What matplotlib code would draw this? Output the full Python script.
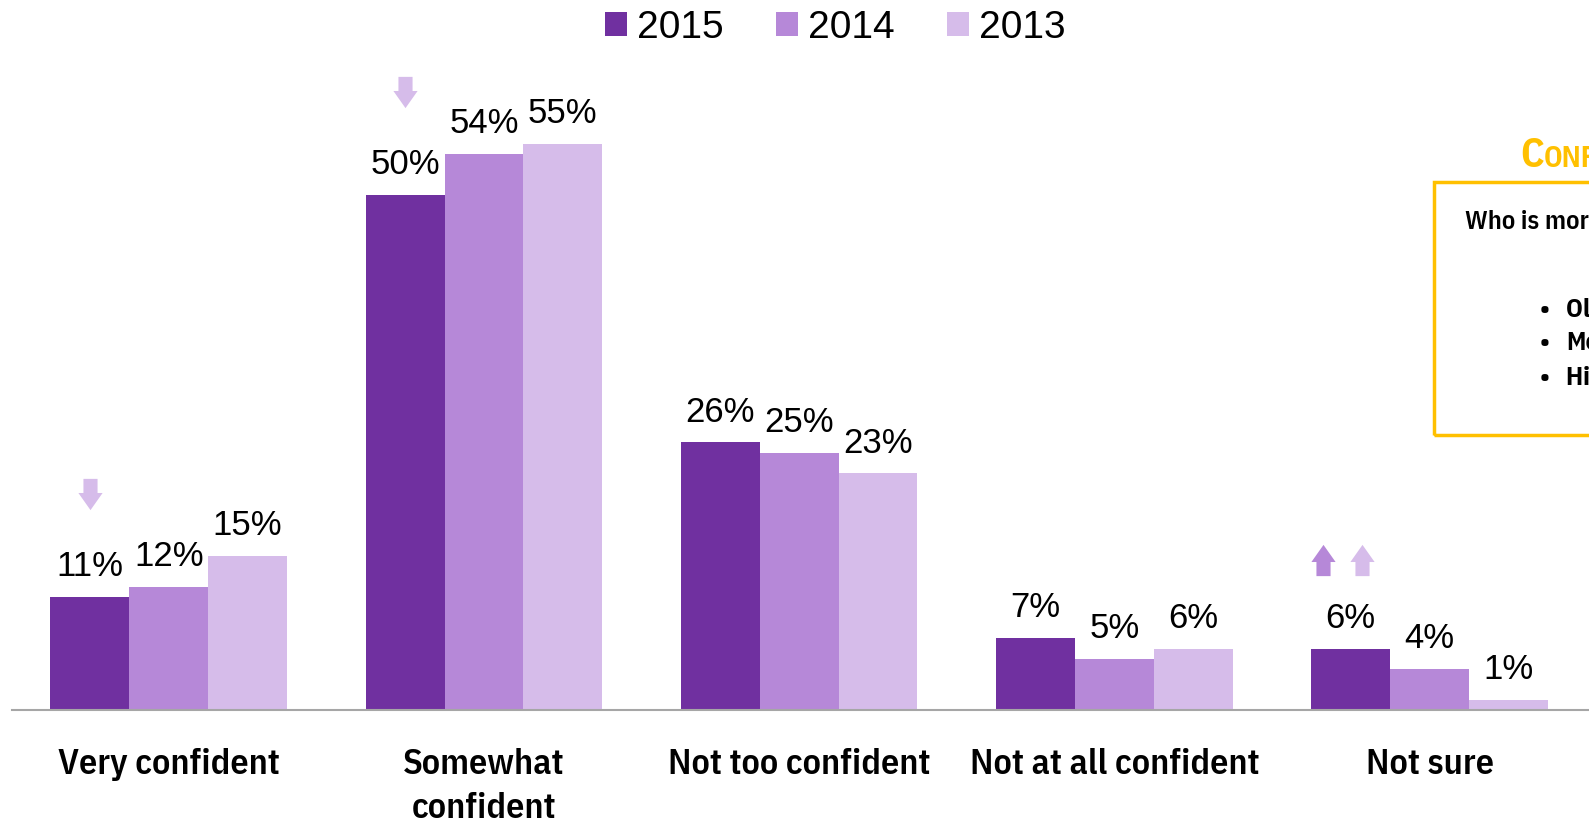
import matplotlib
matplotlib.use("Agg")
import matplotlib.pyplot as plt
import numpy as np
from matplotlib.path import Path
from matplotlib.patches import Rectangle

# Survey answers and the share of respondents per year
categories = ["Very confident", "Somewhat\nconfident", "Not too confident",
              "Not at all confident", "Not sure"]
years = ["2015", "2014", "2013"]
values_2015 = [11, 50, 26, 7, 6]
values_2014 = [12, 54, 25, 5, 4]
values_2013 = [15, 55, 23, 6, 1]

# Year-over-year change markers: (category index, direction, colour year, x nudge)
change_marks = [(0, "down", "2013", 0.0), (1, "down", "2013", 0.0),
                (4, "up", "2014", -0.087), (4, "up", "2013", 0.037)]

COLORS = {"2015": "#7030A0", "2014": "#B688D8", "2013": "#D6BCEA"}
GOLD = "#FFC000"
NARROW = ["IBM Plex Sans Condensed", "DejaVu Sans"]
REGULAR = ["Liberation Sans", "DejaVu Sans"]

W, H = 1589, 836
fig = plt.figure(figsize=(W / 100, H / 100), dpi=100)
base_px = 710.3
ax = fig.add_axes([12.2 / W, 1 - base_px / H, 1 - 12.2 / W, base_px / H])

x = np.arange(len(categories))
bw = 0.25
series = {"2015": values_2015, "2014": values_2014, "2013": values_2013}
for i, yr in enumerate(years):
    pos = x + (i - 1) * bw
    bars = ax.bar(pos, series[yr], width=bw, color=COLORS[yr], label=yr, zorder=2)
    for b, v in zip(bars, series[yr]):
        ax.annotate(f"{v}%", (b.get_x() + b.get_width() / 2, v),
                    xytext=(0, 15), textcoords="offset points",
                    ha="center", va="baseline", fontsize=25, family=REGULAR)

# Arrow markers above the 2015 bars
down = Path([(-7, 0), (7, 0), (7, -14), (12, -14), (0, -31), (-12, -14), (-7, -14), (-7, 0)],
            closed=True)
down = Path(down.vertices + np.array([0, 15.5]), closed=True)
up = Path(down.vertices * np.array([1, -1]), closed=True)
for idx, direction, yr, dx in change_marks:
    xpos = x[idx] - bw + dx
    if direction == "down":
        ax.plot(xpos, values_2015[idx] + 10, marker=down, markersize=22.5,
                color=COLORS[yr], markeredgewidth=0, zorder=3)
    else:
        ax.plot(xpos, values_2015[idx] + 8.6, marker=up, markersize=22.5,
                color=COLORS[yr], markeredgewidth=0, zorder=3)

ax.set_xlim(-0.4965, 4.506)
ax.set_ylim(0, base_px / 10.3)
for s in ["top", "right", "left"]:
    ax.spines[s].set_visible(False)
ax.spines["bottom"].set_color("#A6A6A6")
ax.spines["bottom"].set_linewidth(1.5)
ax.set_yticks([])
ax.set_xticks(x)
ax.set_xticklabels(categories, fontsize=26, fontweight="semibold", family=NARROW,
                   linespacing=1.45)
ax.tick_params(axis="x", length=0, pad=27)

fig.legend(loc="center", bbox_to_anchor=(0.5255, 1 - 28 / H), ncol=3,
           frameon=False, prop={"family": REGULAR, "size": 28},
           handlelength=0.57, handleheight=0.57, handletextpad=0.25,
           columnspacing=1.35, borderpad=0)

# Call-out box on the right edge
fig.patches.append(Rectangle((1434 / W, 1 - 435 / H), 300 / W, 253 / H,
                             transform=fig.transFigure, fill=False,
                             edgecolor=GOLD, linewidth=2.5))
fig.text(1520 / W, 1 - 167 / H, "C", color=GOLD, fontsize=29,
         fontweight="bold", family=NARROW, va="baseline")
fig.text(1544 / W, 1 - 167 / H, "ONFIDENCE", color=GOLD, fontsize=21,
         fontweight="bold", family=NARROW, va="baseline")
fig.text(1465 / W, 1 - 222 / H, "Who is more confident?", fontsize=19,
         fontweight="semibold", family=NARROW, va="center")
for yy, item in zip([310, 343, 378], ["Older Americans", "Men", "Higher income"]):
    fig.text(1540 / W, 1 - yy / H, "\u2022", fontsize=18, fontweight="bold",
             family=NARROW, va="center")
    fig.text(1566 / W, 1 - yy / H, item, fontsize=19, fontweight="bold",
             family=NARROW, va="center")

fig.savefig("out.png", dpi=100)
